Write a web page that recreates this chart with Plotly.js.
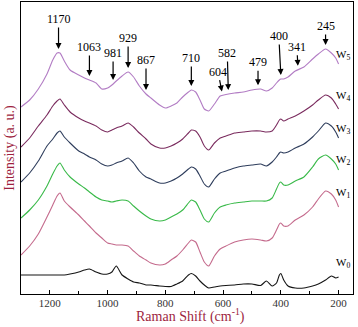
<!DOCTYPE html>
<html>
<head>
<title>Raman spectra</title>
<script src="https://cdn.plot.ly/plotly-3.0.1.min.js"></script>
<style>
	body { margin: 0; background: white; }
	#chart { width: 358px; height: 327px; }
</style>
</head>
<body>
<div id="chart"></div>
<script>
	// Raman shift (cm-1), shared by all six spectra
	var shift = [1300, 1270, 1240, 1210, 1190, 1175, 1165, 1150, 1130, 1100,
		1080, 1063, 1040, 1020, 1000, 985, 970, 950, 929, 910,
		890, 867, 850, 820, 800, 780, 760, 740, 720, 710,
		695, 680, 665, 650, 630, 610, 590, 560, 530, 500,
		470, 450, 430, 415, 405, 400, 390, 375, 350, 320,
		290, 270, 245, 225, 210, 200];

	// intensities (a.u., stacked)
	var w0 = [19, 19, 19, 19, 19, 19, 19, 19, 20, 22,
		24, 25, 22, 20, 20, 22, 28, 19, 15, 12,
		11, 9, 9, 8, 7.5, 7.5, 10, 13, 19, 20.5,
		18, 13, 9, 6, 7, 8, 8.5, 9, 10, 10,
		8.5, 13, 8, 11, 19, 20.5, 14, 8, 6, 6,
		8, 10, 14, 18, 16, 17];
	var w1 = [39, 48, 60, 77, 89, 98, 101, 93, 87, 79,
		73, 68, 61, 56, 51, 50, 49, 49, 48, 43,
		38, 34, 31, 29, 30, 34, 38, 44, 51, 54,
		52, 42, 32, 28, 38, 45, 48, 52, 54, 55,
		54, 53, 56, 64, 70, 71, 68, 68, 74, 79,
		87, 95, 103, 100, 94, 87];
	var w2 = [76, 84, 94, 108, 120, 128, 131, 124, 117, 110,
		106, 102, 97, 94, 93, 92, 93, 94, 93, 88,
		83, 78, 75, 73, 74, 77, 80, 84, 91, 94,
		92, 84, 75, 72, 81, 87, 89, 91, 92, 93,
		93, 93, 96, 105, 111, 112, 109, 109, 113, 117,
		127, 135, 139, 135, 130, 124];
	var w3 = [112, 121, 133, 148, 155, 161, 163, 157, 151, 143,
		140, 137, 134, 130, 128, 129, 131, 133, 136, 131,
		123, 117, 115, 111, 111, 113, 116, 120, 125, 127,
		125, 118, 110, 107, 115, 121, 123, 126, 128, 129,
		130, 128, 132, 137, 141, 142, 141, 142, 146, 150,
		157, 163, 171, 168, 162, 156];
	var w4 = [147, 156, 168, 179, 188, 193, 195, 189, 182, 176,
		173, 171, 168, 164, 162, 164, 166, 168, 171, 167,
		161, 155, 150, 146, 146, 148, 151, 155, 161, 164,
		163, 157, 148, 144, 151, 156, 158, 161, 162, 163,
		163, 162, 163, 169, 174, 175, 173, 175, 178, 183,
		189, 194, 199, 196, 190, 185];
	var w5 = [187, 194, 205, 220, 234, 241, 241, 233, 224, 219,
		216, 214, 211, 205, 206, 209, 213, 218, 222, 217,
		208, 200, 196, 189, 186, 188, 191, 197, 202, 204,
		202, 194, 185, 183, 190, 198, 199.5, 201, 202, 204,
		205, 203, 206, 211, 214, 215, 215, 217, 223, 227,
		235, 240, 245, 241, 236, 230];

	var names = ['W0', 'W1', 'W2', 'W3', 'W4', 'W5'];
	var peaks = [1170, 1063, 981, 929, 867, 710, 604, 582, 479, 400, 341, 245];

	var series = [w0, w1, w2, w3, w4, w5];
	var colors = ['#151515', '#c46a8c', '#38b948', '#2e3d5c', '#7a2b5e', '#b27cc4'];
	var labelY = [31, 101, 134, 165, 198, 239];
	var arrowLen = [-30, -29, -27, -30, -30, -28, -20, -37, -23, -39, -19, -19];
	var arrowDx = [0, 0, 0, 0, 0, 0, -4, -1, 0, -2, -1, 0];

	function interp(xs, ys, x) {
		for (var i = 0; i < xs.length - 1; i++) {
			if (x <= xs[i] && x >= xs[i + 1]) {
				var t = (xs[i] - x) / (xs[i] - xs[i + 1]);
				return ys[i] + t * (ys[i + 1] - ys[i]);
			}
		}
		return ys[ys.length - 1];
	}

	var serif = 'Liberation Serif, Times New Roman, serif';
	var titleColor = '#9e1f3f';

	var traces = series.map(function (s, i) {
		return {
			x: shift,
			y: s,
			type: 'scatter',
			mode: 'lines',
			name: names[i],
			line: {color: colors[i], width: 1.1, shape: 'spline', smoothing: 0.6}
		};
	});

	var annotations = [];
	peaks.forEach(function (p, i) {
		annotations.push({
			x: p, y: interp(shift, w5, p) + 4,
			xref: 'x', yref: 'y',
			text: String(p),
			showarrow: true,
			arrowhead: 2, arrowsize: 1, arrowwidth: 1.2, arrowcolor: '#000',
			ax: arrowDx[i], ay: arrowLen[i],
			font: {family: serif, size: 12, color: '#000'}
		});
	});
	names.forEach(function (n, i) {
		annotations.push({
			x: 185, y: labelY[i],
			xref: 'x', yref: 'y',
			text: n.charAt(0) + '<sub>' + n.slice(1) + '</sub>',
			showarrow: false,
			font: {family: serif, size: 11, color: '#000'}
		});
	});
	// x axis title, placed by hand below the tick labels
	annotations.push({
		x: 0.51, y: -0.074,
		xref: 'paper', yref: 'paper',
		xanchor: 'center', yanchor: 'middle',
		text: 'Raman Shift (cm<sup>-1</sup>)',
		showarrow: false,
		font: {family: serif, size: 14, color: titleColor}
	});

	var layout = {
		width: 358,
		height: 327,
		margin: {l: 21, r: 5, t: 2, b: 33},
		paper_bgcolor: 'white',
		plot_bgcolor: 'white',
		showlegend: false,
		xaxis: {
			range: [1300, 150],
			tick0: 0,
			dtick: 200,
			ticks: 'inside',
			ticklen: 4,
			tickcolor: '#000',
			ticklabelstandoff: -1,
			minor: {dtick: 100, ticks: 'inside', ticklen: 3, tickcolor: '#000'},
			showgrid: false,
			zeroline: false,
			showline: true,
			linecolor: '#000',
			linewidth: 1,
			mirror: true,
			tickfont: {family: serif, size: 11, color: '#333'}
		},
		yaxis: {
			range: [0, 292],
			showticklabels: false,
			ticks: '',
			showgrid: false,
			zeroline: false,
			showline: true,
			linecolor: '#000',
			linewidth: 1,
			mirror: true,
			title: {text: 'Intensity (a. u.)', standoff: 2,
				font: {family: serif, size: 14, color: titleColor}}
		},
		annotations: annotations
	};

	Plotly.newPlot('chart', traces, layout, {displayModeBar: false, staticPlot: true});
</script>
</body>
</html>
